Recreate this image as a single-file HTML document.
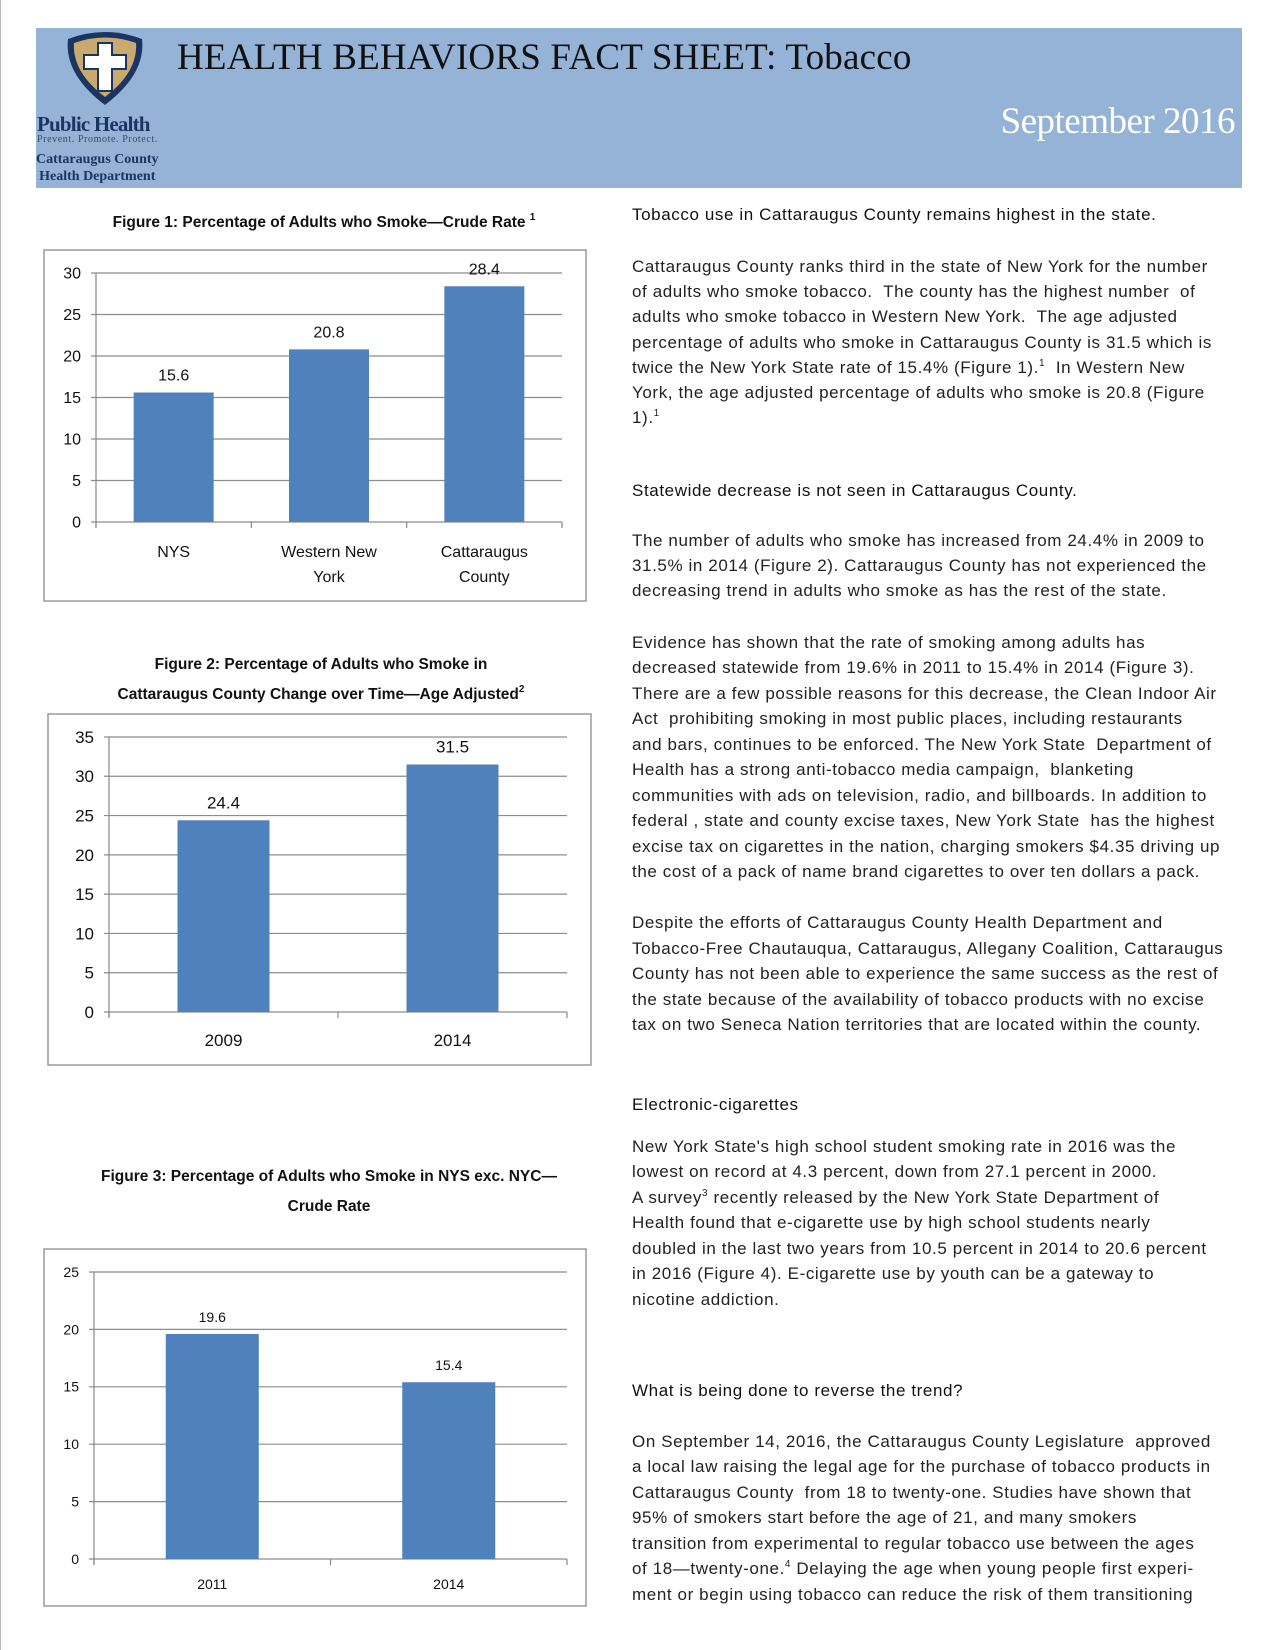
<!DOCTYPE html>
<html><head><meta charset="utf-8">
<style>
body{margin:0;width:1275px;height:1650px;background:#fff;position:relative;overflow:hidden;font-family:"Liberation Sans",sans-serif;}
.abs{position:absolute;}
.t{position:absolute;left:632px;font-size:17px;color:#222;white-space:nowrap;line-height:18px;letter-spacing:0.6px;}
.h{color:#111;}
sup{line-height:0;font-size:10px;vertical-align:7px;}
.ctitle{position:absolute;font-weight:bold;font-size:15.5px;color:#111;text-align:center;white-space:nowrap;}
svg text{font-family:"Liberation Sans",sans-serif;}
</style></head><body>
<div class="abs" style="left:0;top:0;width:1px;height:1650px;background:#bbb"></div>
<div class="abs" style="left:36px;top:28px;width:1206px;height:160px;background:#95b3d7"></div>
<svg class="abs" style="left:60px;top:29px" width="90" height="80" viewBox="0 0 90 80">
<path d="M8 10 Q45 -4 82 10 Q86 45 45 76 Q4 45 8 10Z" fill="#1b3563"/>
<path d="M14 14 Q45 3 76 14 Q78 43 45 68 Q12 43 14 14Z" fill="#c8a96e"/>
<path d="M38 14 h14 v12 h14 v14 h-14 v22 h-14 v-22 h-14 v-14 h14z" fill="#fff" stroke="#1b3563" stroke-width="2"/>
</svg>
<div class="abs" style="left:37px;top:112px;font-family:'Liberation Serif',serif;font-weight:bold;font-size:21px;color:#1b3563;letter-spacing:-0.8px">Public Health</div>
<div class="abs" style="left:37px;top:134px;font-family:'Liberation Serif',serif;font-size:10px;color:#3a4a6a;letter-spacing:0.6px">Prevent. Promote. Protect.</div>
<div class="abs" style="left:36px;top:151px;font-family:'Liberation Serif',serif;font-weight:bold;font-size:14px;color:#1b3563;line-height:17px;text-align:center">Cattaraugus County<br>Health Department</div>
<div class="abs" style="left:177px;top:36px;font-family:'Liberation Serif',serif;font-size:37px;color:#111;white-space:nowrap;letter-spacing:0.2px">HEALTH BEHAVIORS FACT SHEET: Tobacco</div>
<div class="abs" style="right:40px;top:100px;font-family:'Liberation Serif',serif;font-size:37px;color:#fff;white-space:nowrap;letter-spacing:-0.5px">September 2016</div>

<div class="ctitle" style="left:44px;width:560px;top:214px">Figure 1: Percentage of Adults who Smoke—Crude Rate <sup>1</sup></div>
<div class="ctitle" style="left:48px;width:546px;top:650px;line-height:30px">Figure 2: Percentage of Adults who Smoke in<br>Cattaraugus County Change over Time—Age Adjusted<sup>2</sup></div>
<div class="ctitle" style="left:44px;width:570px;top:1162px;line-height:30px">Figure 3: Percentage of Adults who Smoke in NYS exc. NYC—<br>Crude Rate</div>

<svg class="abs" id="charts" style="left:0;top:0" width="1275" height="1650"></svg>

<div>
<div class="t h" style="top:206px">Tobacco use in Cattaraugus County remains highest in the state.</div>
<div class="t" style="top:258px">Cattaraugus County ranks third in the state of New York for the number</div>
<div class="t" style="top:283px">of adults who smoke tobacco.&nbsp; The county has the highest number&nbsp; of</div>
<div class="t" style="top:308px">adults who smoke tobacco in Western New York.&nbsp; The age adjusted</div>
<div class="t" style="top:334px">percentage of adults who smoke in Cattaraugus County is 31.5 which is</div>
<div class="t" style="top:359px">twice the New York State rate of 15.4% (Figure 1).<sup>1</sup>&nbsp; In Western New</div>
<div class="t" style="top:384px">York, the age adjusted percentage of adults who smoke is 20.8 (Figure</div>
<div class="t" style="top:409px">1).<sup>1</sup></div>
<div class="t h" style="top:482px">Statewide decrease is not seen in Cattaraugus County.</div>
<div class="t" style="top:532px">The number of adults who smoke has increased from 24.4% in 2009 to</div>
<div class="t" style="top:557px">31.5% in 2014 (Figure 2). Cattaraugus County has not experienced the</div>
<div class="t" style="top:582px">decreasing trend in adults who smoke as has the rest of the state.</div>
<div class="t" style="top:634px">Evidence has shown that the rate of smoking among adults has</div>
<div class="t" style="top:659px">decreased statewide from 19.6% in 2011 to 15.4% in 2014 (Figure 3).</div>
<div class="t" style="top:685px">There are a few possible reasons for this decrease, the Clean Indoor Air</div>
<div class="t" style="top:710px">Act&nbsp; prohibiting smoking in most public places, including restaurants</div>
<div class="t" style="top:736px">and bars, continues to be enforced. The New York State&nbsp; Department of</div>
<div class="t" style="top:761px">Health has a strong anti-tobacco media campaign,&nbsp; blanketing</div>
<div class="t" style="top:787px">communities with ads on television, radio, and billboards. In addition to</div>
<div class="t" style="top:812px">federal , state and county excise taxes, New York State&nbsp; has the highest</div>
<div class="t" style="top:838px">excise tax on cigarettes in the nation, charging smokers $4.35 driving up</div>
<div class="t" style="top:863px">the cost of a pack of name brand cigarettes to over ten dollars a pack.</div>
<div class="t" style="top:914px">Despite the efforts of Cattaraugus County Health Department and</div>
<div class="t" style="top:940px">Tobacco-Free Chautauqua, Cattaraugus, Allegany Coalition, Cattaraugus</div>
<div class="t" style="top:965px">County has not been able to experience the same success as the rest of</div>
<div class="t" style="top:991px">the state because of the availability of tobacco products with no excise</div>
<div class="t" style="top:1016px">tax on two Seneca Nation territories that are located within the county.</div>
<div class="t h" style="top:1096px">Electronic-cigarettes</div>
<div class="t" style="top:1138px">New York State's high school student smoking rate in 2016 was the</div>
<div class="t" style="top:1163px">lowest on record at 4.3 percent, down from 27.1 percent in 2000.</div>
<div class="t" style="top:1189px">A survey<sup>3</sup> recently released by the New York State Department of</div>
<div class="t" style="top:1214px">Health found that e-cigarette use by high school students nearly</div>
<div class="t" style="top:1240px">doubled in the last two years from 10.5 percent in 2014 to 20.6 percent</div>
<div class="t" style="top:1265px">in 2016 (Figure 4). E-cigarette use by youth can be a gateway to</div>
<div class="t" style="top:1291px">nicotine addiction.</div>
<div class="t h" style="top:1382px">What is being done to reverse the trend?</div>
<div class="t" style="top:1433px">On September 14, 2016, the Cattaraugus County Legislature&nbsp; approved</div>
<div class="t" style="top:1458px">a local law raising the legal age for the purchase of tobacco products in</div>
<div class="t" style="top:1484px">Cattaraugus County&nbsp; from 18 to twenty-one. Studies have shown that</div>
<div class="t" style="top:1509px">95% of smokers start before the age of 21, and many smokers</div>
<div class="t" style="top:1535px">transition from experimental to regular tobacco use between the ages</div>
<div class="t" style="top:1560px">of 18—twenty-one.<sup>4</sup> Delaying the age when young people first experi-</div>
<div class="t" style="top:1586px">ment or begin using tobacco can reduce the risk of them transitioning</div>
</div>

<script>
const fig1Categories = [["NYS"], ["Western New", "York"], ["Cattaraugus", "County"]];
const fig1Values = [15.6, 20.8, 28.4];
const fig1Ticks = [0, 5, 10, 15, 20, 25, 30];
const fig2Categories = [["2009"], ["2014"]];
const fig2Values = [24.4, 31.5];
const fig2Ticks = [0, 5, 10, 15, 20, 25, 30, 35];
const fig3Categories = [["2011"], ["2014"]];
const fig3Values = [19.6, 15.4];
const fig3Ticks = [0, 5, 10, 15, 20, 25];

const NS = "http://www.w3.org/2000/svg";
const svg = document.getElementById("charts");
function mk(tag, attrs, parent) {
  const e = document.createElementNS(NS, tag);
  for (const k in attrs) e.setAttribute(k, attrs[k]);
  parent.appendChild(e);
  return e;
}
function drawChart(id, cfg, cats, vals, ticks) {
  const g = mk("g", {}, svg);
  
  
  const box = mk("rect", {x: cfg.bx, y: cfg.by, width: cfg.bw, height: cfg.bh, fill: "#fff", stroke: "#9a9a9a", "stroke-width": 1.5}, g);
  
  
  const max = ticks[ticks.length - 1];
  const yS = v => cfg.y0 - (cfg.y0 - cfg.yTop) * v / max;
  const band = (cfg.xr - cfg.xl) / cats.length;
  const xS = i => cfg.xl + band * (i + 0.5);
  ticks.forEach(t => {
    const y = yS(t);
    const gl = mk("line", {x1: cfg.xl - 5, x2: cfg.xr, y1: y, y2: y, stroke: "#8c8c8c", "stroke-width": 1.2}, g);
    
    
    const tl = mk("text", {x: cfg.xl - 15, y: y + cfg.fs * 0.35, "text-anchor": "end", "font-size": cfg.fs, fill: "#111"}, g);
    tl.textContent = t;
    
    
  });
  const ax = mk("line", {x1: cfg.xl, x2: cfg.xl, y1: cfg.yTop, y2: cfg.y0 + 5, stroke: "#888", "stroke-width": 1.2}, g);
  
  
  for (let i = 0; i <= cats.length; i++) {
    const x = cfg.xl + band * i;
    const tk = mk("line", {x1: x, x2: x, y1: cfg.y0, y2: cfg.y0 + 6, stroke: "#888", "stroke-width": 1.2}, g);
    
    
  }
  vals.forEach((v, i) => {
    const b = mk("rect", {x: xS(i) - cfg.barW / 2, y: yS(v), width: cfg.barW, height: cfg.y0 - yS(v), fill: "#4f81bd"}, g);
    
    
    const vl = mk("text", {x: xS(i), y: yS(v) - 12, "text-anchor": "middle", "font-size": cfg.fs, fill: "#111"}, g);
    vl.textContent = v.toFixed(1);
    
    
    cats[i].forEach((line, j) => {
      const cl = mk("text", {x: xS(i), y: cfg.catY + j * cfg.catStep, "text-anchor": "middle", "font-size": cfg.fs, fill: "#111"}, g);
      cl.textContent = line;
      
      
    });
  });
}
drawChart("figure-1-chart", {bx: 44, by: 250, bw: 542, bh: 351, xl: 96, xr: 562, y0: 522, yTop: 273, barW: 80, fs: 16, catY: 557, catStep: 25}, fig1Categories, fig1Values, fig1Ticks);
drawChart("figure-2-chart", {bx: 48, by: 714, bw: 543, bh: 351, xl: 109, xr: 567, y0: 1012, yTop: 737, barW: 92, fs: 17, catY: 1046, catStep: 25}, fig2Categories, fig2Values, fig2Ticks);
drawChart("figure-3-chart", {bx: 44, by: 1249, bw: 542, bh: 357, xl: 94, xr: 567, y0: 1559, yTop: 1272, barW: 93, fs: 14, catY: 1589, catStep: 25}, fig3Categories, fig3Values, fig3Ticks);
</script>
</body></html>
